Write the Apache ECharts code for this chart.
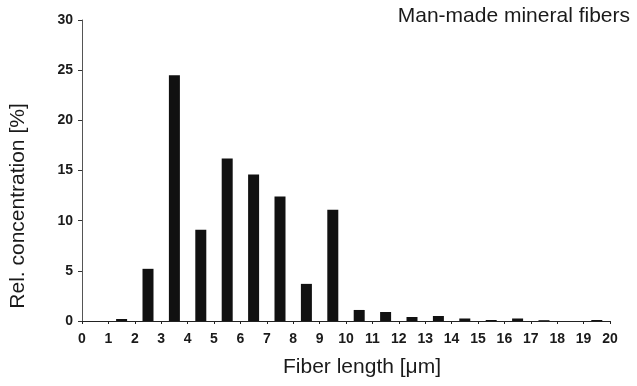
<!DOCTYPE html>
<html>
<head>
<meta charset="utf-8">
<script src="https://cdn.jsdelivr.net/npm/echarts@6/dist/echarts.min.js"></script>
<style>
  html, body { margin: 0; padding: 0; background: #fff; }
  #chart { width: 637px; height: 386px; }
</style>
</head>
<body>
<div id="chart"></div>
<script>
// bin start of each 1 µm length class (bar sits in the middle of the bin)
var binStarts = [0, 1, 2, 3, 4, 5, 6, 7, 8, 9, 10, 11, 12, 13, 14, 15, 16, 17, 18, 19]
// relative concentration [%] per bin
var concentration = [0, 0.2, 5.2, 24.5, 9.1, 16.2, 14.6, 12.4, 3.7, 11.1, 1.1, 0.9, 0.4, 0.5, 0.25, 0.1, 0.25, 0.08, 0, 0.1]
var yTicks = [0, 5, 10, 15, 20, 25, 30]

var chart = echarts.init(document.getElementById('chart'))
var font = 'Liberation Sans, Arial, sans-serif'

chart.setOption({
  animation: false,
  title: {
    text: 'Man-made mineral fibers',
    right: 2,
    top: 1,
    textStyle: { fontFamily: font, fontSize: 21, fontWeight: 'normal', color: '#1a1a1a' }
  },
  grid: { left: 81, right: 27, top: 20, bottom: 65 },
  xAxis: {
    type: 'value',
    min: 0,
    max: 20,
    interval: 1,
    name: 'Fiber length [\u03bcm]',
    nameLocation: 'middle',
    nameGap: 36,
    nameTextStyle: { fontFamily: font, fontSize: 21, color: '#1a1a1a', padding: [0, 0, 0, 32] },
    axisLine: { show: true, lineStyle: { color: '#222', width: 1 } },
    axisTick: { show: true, length: 3, lineStyle: { color: '#222' } },
    axisLabel: { fontFamily: font, fontSize: 14, fontWeight: 'bold', color: '#1a1a1a', margin: 11 },
    splitLine: { show: false }
  },
  yAxis: {
    type: 'value',
    min: yTicks[0],
    max: yTicks[yTicks.length - 1],
    interval: 5,
    name: 'Rel. concentration [%]',
    nameLocation: 'middle',
    nameGap: 53,
    nameTextStyle: { fontFamily: font, fontSize: 21, color: '#1a1a1a', padding: [0, 71, 0, 0] },
    axisLine: { show: true, lineStyle: { color: '#555', width: 1 } },
    axisTick: { show: true, length: 4, lineStyle: { color: '#333' } },
    axisLabel: { fontFamily: font, fontSize: 14, fontWeight: 'bold', color: '#1a1a1a', margin: 9 },
    splitLine: { show: false }
  },
  series: [
    {
      type: 'bar',
      barWidth: 11,
      itemStyle: { color: '#111' },
      data: binStarts.map(function(x, i) {
        return [x + 0.5, concentration[i]]
      })
    }
  ]
})
</script>
</body>
</html>
